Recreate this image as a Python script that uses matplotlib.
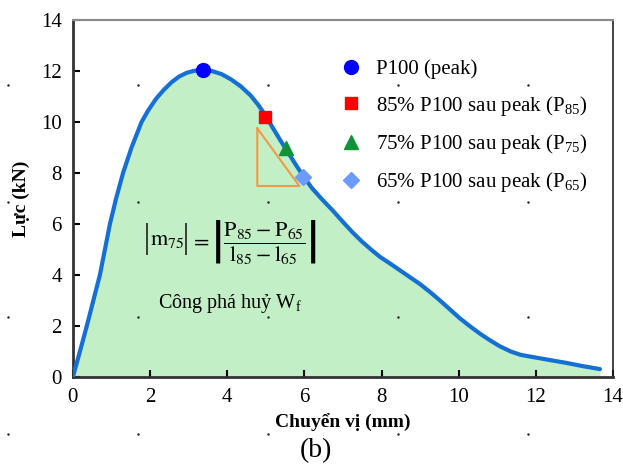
import numpy as np
import matplotlib
matplotlib.use('Agg')
import matplotlib.pyplot as plt

plt.rcParams['font.family'] = ['Liberation Serif', 'DejaVu Serif']
plt.rcParams['mathtext.fontset'] = 'stix'

# load-displacement curve
disp = [0, 0.20, 0.36, 0.53, 0.70, 0.83, 0.96, 1.12, 1.30, 1.52, 1.78, 1.95, 2.15, 2.35,
        2.55, 2.75, 2.95, 3.15, 3.37, 3.60, 3.85, 4.10, 4.35, 4.60, 4.80, 4.98, 5.15,
        5.37, 5.60, 5.80, 5.97, 6.20, 6.45, 6.74, 7.00, 7.25, 7.50, 7.75, 7.96, 8.25,
        8.50, 8.75, 9.00, 9.25, 9.50, 9.75, 10.03, 10.30, 10.55, 10.80, 11.07, 11.35,
        11.60, 11.93, 12.30, 12.80, 13.20, 13.66]
force = [0, 1.1, 2.0, 3.0, 4.0, 5.0, 6.0, 7.0, 8.0, 9.0, 10.0, 10.45, 10.9, 11.25,
         11.55, 11.78, 11.93, 12.01, 12.04, 12.0, 11.88, 11.67, 11.4, 11.05, 10.68, 10.28, 9.85,
         9.3, 8.75, 8.27, 7.88, 7.4, 6.98, 6.52, 6.08, 5.67, 5.3, 4.97, 4.71, 4.42,
         4.16, 3.9, 3.64, 3.34, 3.02, 2.68, 2.3, 1.98, 1.7, 1.45, 1.2, 1.0,
         0.87, 0.78, 0.68, 0.55, 0.43, 0.31]

# marked points
pt_x = [3.37, 4.98, 5.52, 5.97]
pt_y = [12.04, 10.2, 9.0, 7.84]
pt_labels = ['P100 (peak)',
             r'85% P100 sau peak (P$\mathregular{_{85}}$)',
             r'75% P100 sau peak (P$\mathregular{_{75}}$)',
             r'65% P100 sau peak (P$\mathregular{_{65}}$)']
pt_marker = ['o', 's', '^', 'D']
pt_color = ['#0000ff', '#ff0000', '#129237', '#6b9bff']
pt_size = [10, 9, 10, 8]

# slope triangle
tri_x = [4.78, 4.78, 5.87, 4.78]
tri_y = [9.75, 7.49, 7.49, 9.75]

fig = plt.figure(figsize=(6.23, 4.72), dpi=100)
ax = fig.add_axes([0.117, 0.2013, 0.867, 0.7563])

ax.fill_between(disp, force, 0, color='#c3efc6', lw=0)
ax.plot(disp, force, color='#1470d6', lw=3, solid_capstyle='round',
        solid_joinstyle='round', zorder=3)
ax.plot(tri_x, tri_y, color='#f09a48', lw=1.5, zorder=3)

handles = []
for i in range(4):
    h, = ax.plot(pt_x[i], pt_y[i], marker=pt_marker[i], color=pt_color[i],
                 markersize=pt_size[i], ls='none', zorder=4, label=pt_labels[i])
    handles.append(h)

ax.legend(handles=handles, loc='upper left', bbox_to_anchor=(0.481, 0.912),
          frameon=False, fontsize=15, numpoints=1, handlelength=1.0,
          handletextpad=0.7, labelspacing=0.68, borderaxespad=0)

# slope formula |m75| = |(P85 - P65) / (l85 - l65)|
ax.vlines([1.93, 2.93], 4.8, 6.05, color='#111111', lw=1.1)
ax.text(2.43, 5.36, r'$\mathrm{m}_{75}$', fontsize=16, ha='center', va='center')
ax.text(3.3, 5.3, r'$=$', fontsize=16, ha='center', va='center')
ax.text(4.96, 5.3, r'$\left|\dfrac{\mathrm{P}_{85}-\mathrm{P}_{65}}{\mathrm{l}_{85}-\mathrm{l}_{65}}\right|$',
        fontsize=16, ha='center', va='center')
ax.text(4.07, 2.9, r'Công phá huỷ W$\mathregular{_{f}}$', fontsize=14.5, ha='center', va='center')

ax.set_xlim(0, 14)
ax.set_ylim(0, 14)
ax.set_xticks(np.arange(0, 15, 2))
ax.set_yticks(np.arange(0, 15, 2))
ax.tick_params(direction='in', labelsize=15, length=5, width=1.5, pad=8)
ax.set_xlabel('Chuyển vị (mm)', fontsize=14, fontweight='bold', labelpad=5)
ax.set_ylabel('Lực (kN)', fontsize=14, fontweight='bold', labelpad=8)

for s in ['left', 'bottom']:
    ax.spines[s].set_linewidth(2)
    ax.spines[s].set_color('#333333')
ax.spines['top'].set_color('#8a8a8a')
ax.spines['top'].set_linewidth(1.5)
ax.spines['right'].set_color('#222222')
ax.spines['right'].set_linewidth(1.2)

fig.text(0.507, 0.045, '(b)', fontsize=20, ha='center', va='center')

# little stray dots scattered over the page
dot_px = [8, 138, 268, 398, 528]
dot_py = [85, 202, 317, 434]
for px in dot_px:
    for py in dot_py:
        fig.lines.append(plt.Line2D([px / 623], [1 - py / 472], marker='.', ms=1.5,
                                    color='#222222', transform=fig.transFigure))

fig.savefig('out.png', dpi=100)
